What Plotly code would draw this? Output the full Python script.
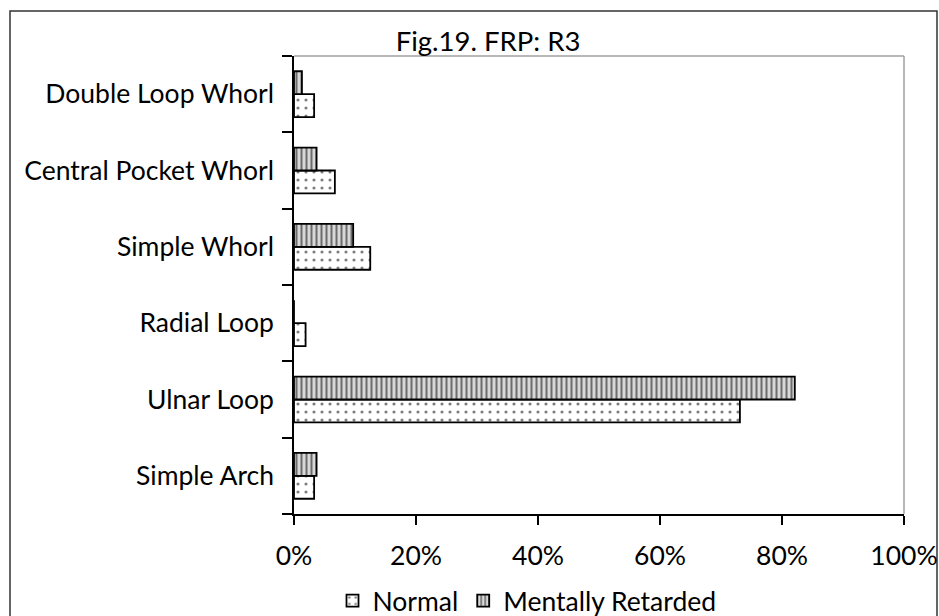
import plotly.graph_objects as go

categories = ["Simple Arch", "Ulnar Loop", "Radial Loop", "Simple Whorl",
              "Central Pocket Whorl", "Double Loop Whorl"]
normal = [3.3, 73.1, 1.9, 12.5, 6.7, 3.3]
mentally_retarded = [3.7, 82.1, 0.0, 9.7, 3.7, 1.3]
x_ticks = [0, 20, 40, 60, 80, 100]
x_tick_labels = ["0%", "20%", "40%", "60%", "80%", "100%"]

FONT = "Lato"
FS = 26.5
W, H = 939, 616
L, R, T, B = 294, 35, 56, 102
pw, ph = W - L - R, H - T - B

fig = go.Figure()
fig.add_trace(go.Bar(
    y=categories, x=normal, orientation="h", name="Normal",
    marker=dict(color="white", line=dict(color="black", width=1.8),
                pattern=dict(shape=".", fgcolor="black", bgcolor="white",
                             size=8, solidity=0.12)),
))
fig.add_trace(go.Bar(
    y=categories, x=mentally_retarded, orientation="h", name="Mentally Retarded",
    marker=dict(color="#c8c8c8", line=dict(color="black", width=1.8),
                pattern=dict(shape="|", fgcolor="black", bgcolor="#d8d8d8",
                             size=5, solidity=0.4)),
))

def px2x(p):
    return (p - L) / pw

def px2y(p):
    return (H - B - p) / ph

shapes = [
    dict(type="line", xref="paper", yref="paper", x0=0, x1=1, y0=1, y1=1,
         line=dict(color="#a0a0a0", width=1.5)),
    dict(type="line", xref="paper", yref="paper", x0=1, x1=1, y0=0, y1=1,
         line=dict(color="#a0a0a0", width=1.5)),
    dict(type="rect", xref="paper", yref="paper", x0=px2x(10), x1=px2x(937),
         y0=px2y(640), y1=px2y(11), line=dict(color="#333333", width=1.5),
         layer="below"),
]

fig.update_layout(
    width=W, height=H,
    margin=dict(l=L, r=R, t=T, b=B, pad=0, autoexpand=False),
    paper_bgcolor="white", plot_bgcolor="white",
    font=dict(family=FONT, size=FS, color="black"),
    barmode="group", bargap=0.4, bargroupgap=0.0,
    title=dict(text="Fig.19. FRP: R3", x=488 / W, xref="container", xanchor="center",
               y=1 - 41 / H, yref="container", yanchor="middle",
               font=dict(family=FONT, size=FS + 1, color="black")),
    showlegend=True,
    legend=dict(orientation="h", x=px2x(527), xanchor="center",
                y=px2y(601), yanchor="middle", font=dict(size=FS),
                traceorder="normal", itemwidth=30,
                bgcolor="rgba(0,0,0,0)"),
    shapes=shapes,
)
fig.update_xaxes(range=[0, 100], tickvals=x_ticks, ticktext=x_tick_labels,
                 showgrid=False, zeroline=False, showline=True,
                 linecolor="black", linewidth=1.5, ticks="outside",
                 ticklen=9, tickwidth=1.5, tickcolor="black",
                 ticklabelstandoff=8, fixedrange=True)
fig.update_yaxes(categoryorder="array", categoryarray=categories,
                 showgrid=False, zeroline=False, showline=True,
                 linecolor="black", linewidth=1.5, ticks="outside",
                 tickson="boundaries", ticklen=10, tickwidth=1.5,
                 tickcolor="black", ticklabelstandoff=13, fixedrange=True)

fig.write_html("out.html")
